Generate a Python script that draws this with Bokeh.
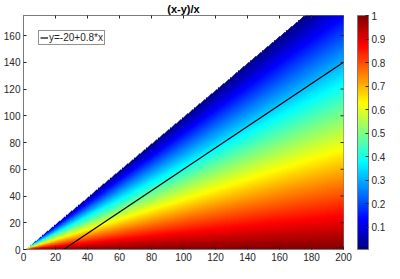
import numpy as np
from bokeh.plotting import figure
from bokeh.models import (LinearColorMapper, ColorBar, FixedTicker,
                          Range1d, Legend, LegendItem, CustomJSTickFormatter)
from bokeh.embed import file_html
from bokeh.resources import INLINE

# ---- data ----
x_vals = np.arange(0.5, 200.01, 0.5)     # x grid
y_vals = np.arange(0.0, 175.01, 0.5)     # y grid
line_x = [25, 200]
line_y = [-20 + 0.8 * v for v in line_x]
x_ticks = list(range(0, 201, 20))
y_ticks = list(range(0, 161, 20))
cb_ticks = [0.1, 0.2, 0.3, 0.4, 0.5, 0.6, 0.7, 0.8, 0.9, 1.0]
title_text = "(x-y)/x"
legend_text = "y=-20+0.8*x"

X, Y = np.meshgrid(x_vals, y_vals)
Z = np.where(Y < X - 1, (X - Y) / X, np.nan).astype(np.float32)

def jet(n=256):
    out = []
    for i in range(n):
        t = i / (n - 1)
        r = min(max(1.5 - abs(4 * t - 3), 0), 1)
        g = min(max(1.5 - abs(4 * t - 2), 0), 1)
        b = min(max(1.5 - abs(4 * t - 1), 0), 1)
        out.append("#%02x%02x%02x" % (round(r * 255), round(g * 255), round(b * 255)))
    return out

FONT = "Liberation Sans"
AX = "#262626"
EDGE = "#7a7a7a"
FW, FH = 320, 234

mapper = LinearColorMapper(palette=jet(), low=0.005, high=1.0,
                           nan_color=(255, 255, 255, 0))

p = figure(frame_width=FW, frame_height=FH, x_range=Range1d(0, 200), y_range=Range1d(0, 175),
           output_backend="svg", toolbar_location=None, title=title_text,
           min_border=0, min_border_left=2, min_border_right=42, min_border_top=1)
p.title.align = "center"
p.title.text_font = FONT
p.title.text_font_size = "11px"
p.title.text_font_style = "bold"
p.title.text_color = "black"
p.title.standoff = 1
p.grid.visible = False
p.outline_line_color = EDGE
p.outline_line_width = 1

step = 0.5
p.image(image=[Z], x=x_vals[0] - step / 2, y=y_vals[0] - step / 2,
        dw=len(x_vals) * step, dh=len(y_vals) * step, color_mapper=mapper)

r = p.line(line_x, line_y, line_color="black", line_width=1.2)

# box ticks on top and right edges (clipped to the frame, so only the inner half shows)
p.scatter(x=x_ticks, y=[175] * len(x_ticks), marker="dash", angle=np.pi / 2,
          size=6, line_color=AX, line_width=1)
p.scatter(x=[200] * len(y_ticks), y=y_ticks, marker="dash",
          size=6, line_color=AX, line_width=1)

p.xaxis.ticker = FixedTicker(ticks=x_ticks)
p.yaxis.ticker = FixedTicker(ticks=y_ticks)
for ax in p.xaxis + p.yaxis:
    ax.major_tick_in = 3
    ax.major_tick_out = 0
    ax.minor_tick_in = 0
    ax.minor_tick_out = 0
    ax.axis_line_color = EDGE
    ax.major_tick_line_color = AX
    ax.major_label_text_font = FONT
    ax.major_label_text_color = AX
    ax.major_label_text_font_size = "10px"
    ax.major_label_standoff = 3

cb = ColorBar(color_mapper=mapper, ticker=FixedTicker(ticks=cb_ticks),
              formatter=CustomJSTickFormatter(code="return String(Math.round(tick*10)/10)"),
              width=11, height=FH, padding=0, margin=0, label_standoff=3,
              location=(FW + 14, 0),
              major_label_text_font=FONT, major_label_text_font_size="10px",
              major_label_text_color=AX,
              major_tick_in=3, major_tick_out=0, major_tick_line_color=AX,
              minor_tick_line_color=None,
              bar_line_color=EDGE, border_line_color=None, background_fill_alpha=0)
p.add_layout(cb)

leg = Legend(items=[LegendItem(label=legend_text, renderers=[r])], location="top_left")
leg.margin = 15
leg.padding = 1
leg.spacing = 0
leg.glyph_width = 8
leg.glyph_height = 9
leg.label_height = 9
leg.label_standoff = 1
leg.label_text_font = FONT
leg.label_text_font_size = "10px"
leg.label_text_color = AX
leg.label_text_baseline = "middle"
leg.border_line_color = AX
leg.border_line_width = 1
leg.background_fill_color = "white"
p.add_layout(leg)

open("out.html", "w").write(file_html(p, INLINE))
